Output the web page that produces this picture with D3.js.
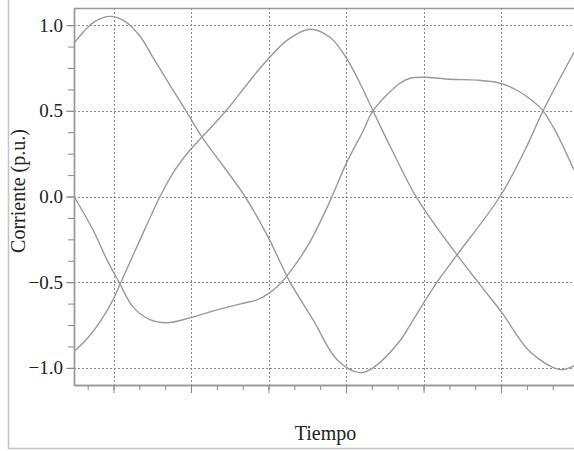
<!DOCTYPE html>
<html>
<head>
<meta charset="utf-8">
<script src="https://cdn.jsdelivr.net/npm/d3@7"></script>
<style>
  html, body { margin: 0; padding: 0; background: #fff; }
  svg { display: block; }
  text { font-family: "Liberation Serif", "Times New Roman", serif; fill: #222; }
</style>
</head>
<body>
<svg id="chart" width="574" height="451"></svg>
<script>
// Three-phase current waveforms (per unit) over time
const yTickValues = [-1.0, -0.5, 0.0, 0.5, 1.0];
const yTickLabels = ["\u22121.0", "\u22120.5", "0.0", "0.5", "1.0"];
const timeMajorTicks = [1, 2, 3, 4, 5, 6];
const xLabel = "Tiempo";
const yLabel = "Corriente (p.u.)";

// [time, current] pairs for each phase
const phaseA = [
  [0.490, 0.894], [0.632, 0.970], [0.761, 1.022], [0.955, 1.051], [1.148, 1.022],
  [1.342, 0.935], [1.509, 0.812], [1.729, 0.649], [1.935, 0.500], [2.142, 0.347],
  [2.425, 0.172], [2.696, 0.000], [2.993, -0.236], [3.148, -0.381], [3.277, -0.500],
  [3.574, -0.719], [3.884, -0.952], [4.180, -1.028], [4.348, -1.000], [4.696, -0.842],
  [4.851, -0.731], [5.174, -0.500], [5.432, -0.341], [5.987, 0.000], [6.309, 0.271],
  [6.542, 0.500], [6.942, 0.842]
];
const phaseB = [
  [0.490, 0.000], [0.735, -0.195], [0.916, -0.370], [1.071, -0.500], [1.251, -0.644],
  [1.471, -0.719], [1.690, -0.737], [1.987, -0.708], [2.245, -0.673], [2.671, -0.623],
  [2.851, -0.603], [2.993, -0.568], [3.148, -0.510], [3.277, -0.440], [3.406, -0.358],
  [3.535, -0.265], [3.729, -0.090], [3.819, 0.000], [3.999, 0.189], [4.219, 0.381],
  [4.348, 0.500], [4.696, 0.661], [4.825, 0.690], [4.993, 0.696], [5.342, 0.684],
  [5.690, 0.679], [5.987, 0.661], [6.206, 0.620], [6.412, 0.556], [6.542, 0.500],
  [6.709, 0.376], [6.942, 0.154]
];
const phaseC = [
  [0.490, -0.905], [0.658, -0.830], [0.825, -0.731], [0.993, -0.603], [1.093, -0.503],
  [1.342, -0.253], [1.600, 0.000], [1.767, 0.137], [1.987, 0.271], [2.142, 0.347],
  [2.451, 0.500], [2.890, 0.748], [3.238, 0.911], [3.535, 0.976], [3.793, 0.929],
  [3.999, 0.812], [4.180, 0.661], [4.348, 0.500], [4.593, 0.271], [4.890, 0.009],
  [5.084, -0.125], [5.432, -0.341], [5.703, -0.500], [6.013, -0.679], [6.374, -0.906],
  [6.761, -1.010], [6.942, -0.987]
];

const svg = d3.select("#chart");
const plot = { left: 74, top: 8, right: 577, bottom: 385 };

const x = d3.scaleLinear().domain([0.49, 6.98]).range([plot.left, plot.right]);
const y = d3.scaleLinear().domain([-1.1, 1.1]).range([plot.bottom, plot.top]);

// outer figure border
svg.append("rect")
  .attr("x", 8.5).attr("y", -5).attr("width", 600).attr("height", 453.5)
  .attr("fill", "none").attr("stroke", "#c4c4c4").attr("stroke-width", 1.5);

svg.append("defs").append("clipPath").attr("id", "clip")
  .append("rect")
  .attr("x", plot.left).attr("y", plot.top)
  .attr("width", plot.right - plot.left).attr("height", plot.bottom - plot.top);

// dotted grid
const grid = svg.append("g").attr("stroke", "#8a8a8a").attr("stroke-width", 1)
  .attr("stroke-dasharray", "2,2");
grid.selectAll("line.h").data(yTickValues).join("line")
  .attr("x1", plot.left).attr("x2", plot.right)
  .attr("y1", d => Math.round(y(d)) + 0.5).attr("y2", d => Math.round(y(d)) + 0.5);
grid.selectAll("line.v").data(timeMajorTicks).join("line")
  .attr("y1", plot.top).attr("y2", plot.bottom)
  .attr("x1", d => Math.round(x(d)) + 0.5).attr("x2", d => Math.round(x(d)) + 0.5);

// top frame line
svg.append("line")
  .attr("x1", plot.left).attr("x2", plot.right)
  .attr("y1", plot.top + 0.5).attr("y2", plot.top + 0.5)
  .attr("stroke", "#999").attr("stroke-width", 1.3);

// minor ticks
const yMinor = d3.range(-1.0, 1.0001, 0.125).map(v => +v.toFixed(3));
const xMinor = d3.range(2 / 3, 6.98, 1 / 3);

const yAxisMinor = d3.axisLeft(y).tickValues(yMinor).tickSize(6).tickSizeOuter(0).tickFormat("");
const xAxisMinor = d3.axisBottom(x).tickValues(xMinor).tickSize(5).tickSizeOuter(0).tickFormat("");

const gyMinor = svg.append("g").attr("transform", `translate(${plot.left},0)`).call(yAxisMinor);
const gxMinor = svg.append("g").attr("transform", `translate(0,${plot.bottom})`).call(xAxisMinor);

// major ticks and labels
const yAxis = d3.axisLeft(y).tickValues(yTickValues).tickSize(8).tickSizeOuter(0)
  .tickPadding(3).tickFormat((d, i) => yTickLabels[i]);
const xAxis = d3.axisBottom(x).tickValues(timeMajorTicks).tickSize(8).tickSizeOuter(0).tickFormat("");

const gy = svg.append("g").attr("transform", `translate(${plot.left},0)`).call(yAxis);
const gx = svg.append("g").attr("transform", `translate(0,${plot.bottom})`).call(xAxis);

[gyMinor, gxMinor, gy, gx].forEach(g => {
  g.select(".domain").attr("stroke", "#999").attr("stroke-width", 1.4);
  g.selectAll(".tick line").attr("stroke", "#888").attr("stroke-width", 1);
});
gy.selectAll(".tick text")
  .attr("font-size", 19).attr("fill", "#222")
  .attr("font-family", "'Liberation Serif', 'Times New Roman', serif");

// phase currents
const line = d3.line().x(d => x(d[0])).y(d => y(d[1])).curve(d3.curveCatmullRom.alpha(0.5));
svg.append("g").attr("clip-path", "url(#clip)")
  .selectAll("path").data([phaseA, phaseB, phaseC]).join("path")
  .attr("d", line)
  .attr("fill", "none")
  .attr("stroke", "#9a9a9a")
  .attr("stroke-width", 1.4);

// axis titles
svg.append("text")
  .attr("x", (plot.left + plot.right) / 2).attr("y", 440)
  .attr("text-anchor", "middle").attr("font-size", 20)
  .text(xLabel);

svg.append("text")
  .attr("transform", `translate(25,${191}) rotate(-90)`)
  .attr("text-anchor", "middle").attr("font-size", 20)
  .text(yLabel);
</script>
</body>
</html>
